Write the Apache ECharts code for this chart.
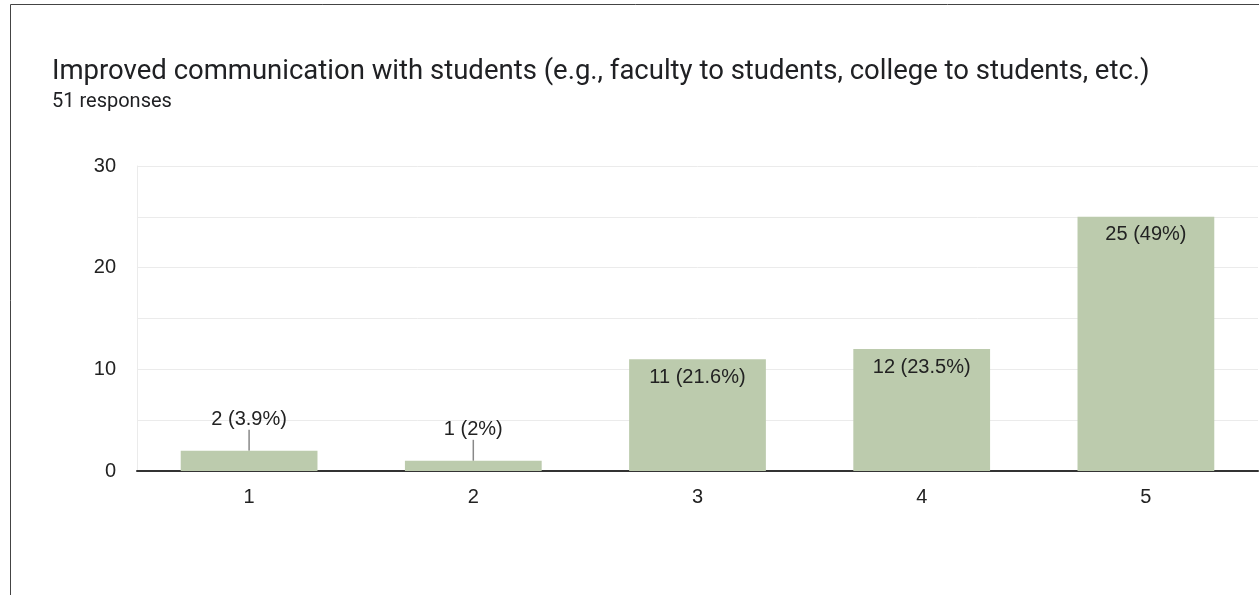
<!DOCTYPE html>
<html>
<head>
<meta charset="utf-8">
<script src="https://cdn.jsdelivr.net/npm/echarts@6/dist/echarts.min.js"></script>
<style>
  html, body { margin: 0; padding: 0; background: #fff; }
  #chart { width: 1259px; height: 595px; }
</style>
</head>
<body>
<div id="chart"></div>
<script>
// data
const categories = ['1', '2', '3', '4', '5'];
const counts = [2, 1, 11, 12, 25];
const percents = ['3.9%', '2%', '21.6%', '23.5%', '49%'];
const yTicks = [0, 10, 20, 30];

const chart = echarts.init(document.getElementById('chart'));

// small bars get the label above with a little guide line
const barData = counts.map(function (v) {
    const small = v < 5;
    return {
        value: v,
        label: {
            position: small ? 'top' : 'insideTop',
            distance: small ? 3 : 8
        },
        labelLine: { show: small }
    };
});

chart.setOption({
    animation: false,
    textStyle: { fontFamily: 'Arial, "Liberation Sans", sans-serif' },
    title: {
        text: 'Improved communication with students (e.g., faculty to students, college to students, etc.)',
        subtext: '51 responses',
        left: 47,
        top: 53,
        itemGap: 6,
        textStyle: { fontFamily: 'Roboto', fontSize: 27.5, fontWeight: 'normal', color: '#202124' },
        subtextStyle: { fontFamily: 'Roboto', fontSize: 20, color: '#202124' }
    },
    graphic: [{
        type: 'rect',
        shape: { x: 10.5, y: 4.5, width: 1400, height: 800 },
        style: { fill: 'none', stroke: '#444', lineWidth: 1 },
        silent: true
    }],
    grid: { left: 137, right: 1, top: 166, bottom: 124 },
    xAxis: {
        type: 'category',
        data: categories,
        axisTick: { show: false },
        axisLine: { lineStyle: { color: '#333', width: 2 } },
        axisLabel: { margin: 16, fontSize: 20, color: '#222' }
    },
    yAxis: {
        type: 'value',
        min: 0,
        max: 30,
        interval: 5,
        axisLine: { show: true, lineStyle: { color: '#ebebeb' } },
        splitLine: { lineStyle: { color: '#ebebeb' } },
        axisLabel: {
            margin: 21,
            fontSize: 20,
            color: '#222',
            formatter: function (v) { return yTicks.indexOf(v) >= 0 ? String(v) : ''; }
        }
    },
    series: [{
        type: 'bar',
        data: barData,
        barWidth: '61%',
        itemStyle: { color: '#bccbad' },
        label: {
            show: true,
            fontSize: 20,
            color: '#222',
            formatter: function (p) { return p.value + ' (' + percents[p.dataIndex] + ')'; }
        },
        labelLayout: function (p) {
            return counts[p.dataIndex] < 5 ? { dy: -18 } : {};
        },
        labelLine: { lineStyle: { color: '#888', width: 1.5 } }
    }]
});
</script>
</body>
</html>
